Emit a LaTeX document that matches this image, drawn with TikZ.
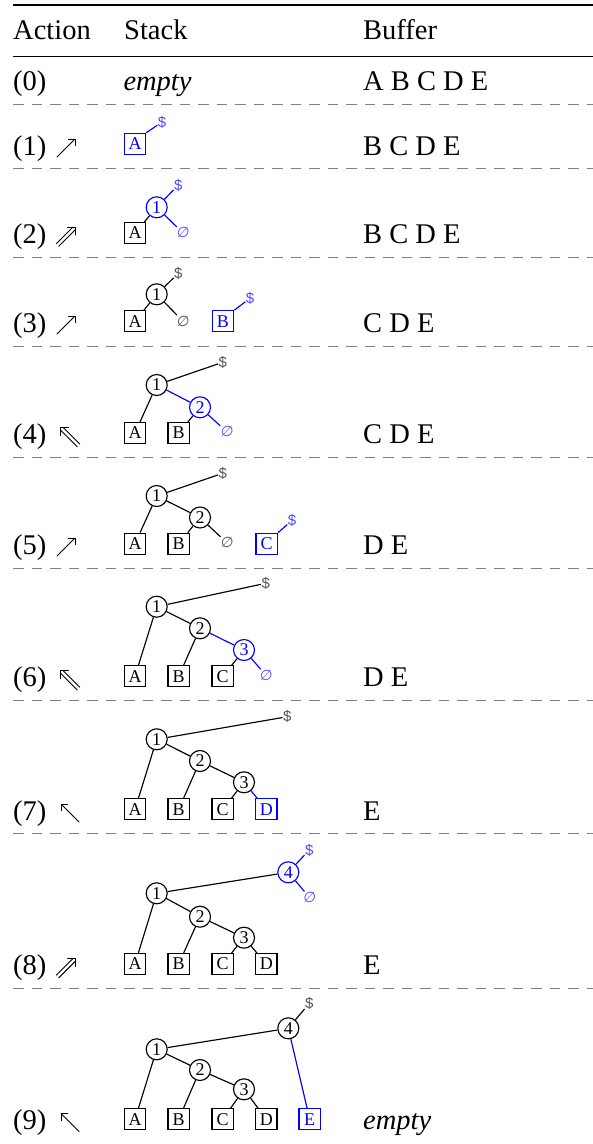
\documentclass[tikz,border=0pt]{standalone}
\usepackage{fontspec}
\setmainfont{Liberation Serif}
\newfontfamily\sansf{Liberation Sans}
\newfontfamily\symf[FakeSlant=0.12]{DejaVu Sans}
\usetikzlibrary{arrows.meta}
\definecolor{labgray}{HTML}{555555}
\definecolor{lblue}{HTML}{4D4DFF}
\definecolor{sepgray}{HTML}{808080}
\begin{document}
\begin{tikzpicture}[x=1pt,y=-1pt,
  leafbox/.style={draw, rectangle, minimum width=21.5pt, minimum height=21pt, inner sep=0pt, line width=1.15pt, font=\fontsize{18}{18}\selectfont},
  inode/.style={draw, circle, minimum size=21pt, inner sep=0pt, line width=1.15pt, font=\fontsize{18}{18}\selectfont},
  act/.style={draw=blue, text=blue},
  dollar/.style={inner sep=0.4pt, text=labgray, font=\sansf\fontsize{15}{15}\selectfont},
  empt/.style={inner sep=0.4pt, text=labgray, font=\symf\fontsize{14.5}{15}\selectfont},
  actlab/.style={text=lblue},
  edge/.style={line width=1.15pt},
  aedge/.style={line width=1.15pt, draw=blue},
  rowtext/.style={anchor=base west, inner sep=0pt, font=\fontsize{28.5}{30}\selectfont},
  sepline/.style={draw=sepgray, line width=0.8pt, dash pattern=on 10.5pt off 8pt},
  arrowline/.style={line width=0.9pt, line cap=round},
  sarrow/.style={arrowline, -{Straight Barb[length=5pt,width=10pt]}}
]
\useasboundingbox (0,0) rectangle (593,1144);

% header
\draw[line width=1.8pt] (13,5) -- (593,5);
\node[rowtext] (hAct) at (13,39.3) {Action};
\node[rowtext] (hStack) at (124,39.3) {Stack};
\node[rowtext] (hBuf) at (363,39.3) {Buffer};
\draw[line width=0.9pt] (13,56) -- (593,56);

% separators
\foreach \yy in {104,168,257,346,457,568,700.5,833.5,988}
  \draw[sepline] (13,\yy) -- (593,\yy);

% row 0
\node[rowtext] (a0) at (13,90.5) {(0)};
\node[rowtext] (s0) at (123.3,90.5) {\itshape empty};
\node[rowtext] (b0) at (363,90.5) {A B C D E};

% action labels and buffers
\node[rowtext] (a1) at (13,155) {(1)};
\node[rowtext] (a2) at (13,243) {(2)};
\node[rowtext] (a3) at (13,332) {(3)};
\node[rowtext] (a4) at (13,443.3) {(4)};
\node[rowtext] (a5) at (13,554) {(5)};
\node[rowtext] (a6) at (13,686.7) {(6)};
\node[rowtext] (a7) at (13,820) {(7)};
\node[rowtext] (a8) at (13,974.5) {(8)};
\node[rowtext] (a9) at (13,1129.5) {(9)};

\node[rowtext] (b1) at (363,155) {B C D E};
\node[rowtext] (b2) at (363,243) {B C D E};
\node[rowtext] (b3) at (363,332) {C D E};
\node[rowtext] (b4) at (363,443.3) {C D E};
\node[rowtext] (b5) at (363,554) {D E};
\node[rowtext] (b6) at (363,686.7) {D E};
\node[rowtext] (b7) at (363,820) {E};
\node[rowtext] (b8) at (363,974.5) {E};
\node[rowtext] (b9) at (363,1129.5) {\itshape empty};

% arrows: NE single
\foreach \bl in {155,332,554}{
  \begin{scope}[shift={(0,\bl)}]
    \draw[sarrow] (57,2) -- (75.5,-16.5);
  \end{scope}}
% NW single
\foreach \bl in {820,1129.5}{
  \begin{scope}[shift={(0,\bl)}]
    \draw[sarrow] (79,2) -- (60.5,-16.5);
  \end{scope}}
% NE double
\foreach \bl in {243,974.5}{
  \begin{scope}[shift={(0,\bl)}]
    \draw[arrowline] (56.2,0.7) -- (72.9,-16);
    \draw[arrowline] (58.8,3.3) -- (75.5,-13.4);
    \draw[arrowline, line join=miter] (67.5,-16) -- (75.5,-16) -- (75.5,-8);
  \end{scope}}
% NW double
\foreach \bl in {443.3,686.7}{
  \begin{scope}[shift={(0,\bl)}]
    \draw[arrowline] (79.8,0.7) -- (63.1,-16);
    \draw[arrowline] (77.2,3.3) -- (60.5,-13.4);
    \draw[arrowline, line join=miter] (68.5,-16) -- (60.5,-16) -- (60.5,-8);
  \end{scope}}

% row 1
\node[leafbox,act] (r1A) at (135,143.8) {A};
\node[dollar,actlab] (r1d) at (162,122) {\$};
\draw[aedge] (r1A.north east) -- (r1d);

% row 2
\node[inode,act] (r2c1) at (156.7,207.3) {1};
\node[leafbox] (r2A) at (135,233) {A};
\node[dollar,actlab] (r2d) at (178.3,185) {\$};
\node[empt,actlab] (r2e) at (182.7,232.7) {∅};
\draw[edge] (r2c1) -- (r2A);
\draw[aedge] (r2c1) -- (r2d);
\draw[aedge] (r2c1) -- (r2e);

% row 3
\node[inode] (r3c1) at (156.7,294.3) {1};
\node[leafbox] (r3A) at (135,321.2) {A};
\node[dollar] (r3d) at (178.3,273.3) {\$};
\node[empt] (r3e) at (182.7,321) {∅};
\node[leafbox,act] (r3B) at (223,321.2) {B};
\node[dollar,actlab] (r3Bd) at (250,298.3) {\$};
\draw[edge] (r3c1) -- (r3A);
\draw[edge] (r3c1) -- (r3d);
\draw[edge] (r3c1) -- (r3e);
\draw[aedge] (r3B.north east) -- (r3Bd);

% row 4
\node[inode] (r4c1) at (156.7,385) {1};
\node[inode,act] (r4c2) at (200,407.3) {2};
\node[leafbox] (r4A) at (135,433) {A};
\node[leafbox] (r4B) at (178.7,433) {B};
\node[dollar] (r4d) at (222.7,362.3) {\$};
\node[empt,actlab] (r4e) at (226.7,431.7) {∅};
\draw[edge] (r4c1) -- (r4d);
\draw[edge] (r4c1) -- (r4A);
\draw[aedge] (r4c1) -- (r4c2);
\draw[edge] (r4c2) -- (r4B);
\draw[aedge] (r4c2) -- (r4e);

% row 5
\node[inode] (r5c1) at (156.7,496) {1};
\node[inode] (r5c2) at (200,517.5) {2};
\node[leafbox] (r5A) at (135,543.7) {A};
\node[leafbox] (r5B) at (178.7,543.7) {B};
\node[dollar] (r5d) at (222.7,473.3) {\$};
\node[empt] (r5e) at (226.7,542.7) {∅};
\node[leafbox,act] (r5C) at (266.7,543.7) {C};
\node[dollar,actlab] (r5Cd) at (292,520.5) {\$};
\draw[edge] (r5c1) -- (r5d);
\draw[edge] (r5c1) -- (r5A);
\draw[edge] (r5c1) -- (r5c2);
\draw[edge] (r5c2) -- (r5B);
\draw[edge] (r5c2) -- (r5e);
\draw[aedge] (r5C.north east) -- (r5Cd);

% row 6
\node[inode] (r6c1) at (156.7,606.7) {1};
\node[inode] (r6c2) at (200,628.3) {2};
\node[inode,act] (r6c3) at (244,650) {3};
\node[leafbox] (r6A) at (135,676.3) {A};
\node[leafbox] (r6B) at (178.7,676.3) {B};
\node[leafbox] (r6C) at (222.7,676.3) {C};
\node[dollar] (r6d) at (265.7,583.3) {\$};
\node[empt,actlab] (r6e) at (265.7,675) {∅};
\draw[edge] (r6c1) -- (r6d);
\draw[edge] (r6c1) -- (r6A);
\draw[edge] (r6c1) -- (r6c2);
\draw[edge] (r6c2) -- (r6B);
\draw[aedge] (r6c2) -- (r6c3);
\draw[edge] (r6c3) -- (r6C);
\draw[aedge] (r6c3) -- (r6e);

% row 7
\node[inode] (r7c1) at (156.7,739.3) {1};
\node[inode] (r7c2) at (200,761) {2};
\node[inode] (r7c3) at (244,782.3) {3};
\node[leafbox] (r7A) at (135,809.3) {A};
\node[leafbox] (r7B) at (178.7,809.3) {B};
\node[leafbox] (r7C) at (222.7,809.3) {C};
\node[leafbox,act] (r7D) at (266.3,809.3) {D};
\node[dollar] (r7d) at (287.3,716.7) {\$};
\draw[edge] (r7c1) -- (r7d);
\draw[edge] (r7c1) -- (r7A);
\draw[edge] (r7c1) -- (r7c2);
\draw[edge] (r7c2) -- (r7B);
\draw[edge] (r7c2) -- (r7c3);
\draw[edge] (r7c3) -- (r7C);
\draw[aedge] (r7c3) -- (r7D);

% row 8
\node[inode,act] (r8c4) at (288.3,872.3) {4};
\node[inode] (r8c1) at (156.7,893.3) {1};
\node[inode] (r8c2) at (200,916.7) {2};
\node[inode] (r8c3) at (244,937.7) {3};
\node[leafbox] (r8A) at (135,964) {A};
\node[leafbox] (r8B) at (178.7,964) {B};
\node[leafbox] (r8C) at (222.7,964) {C};
\node[leafbox] (r8D) at (266.3,964) {D};
\node[dollar,actlab] (r8d) at (309.3,850) {\$};
\node[empt,actlab] (r8e) at (309.3,897.3) {∅};
\draw[aedge] (r8c4) -- (r8d);
\draw[aedge] (r8c4) -- (r8e);
\draw[edge] (r8c1) -- (r8c4);
\draw[edge] (r8c1) -- (r8A);
\draw[edge] (r8c1) -- (r8c2);
\draw[edge] (r8c2) -- (r8B);
\draw[edge] (r8c2) -- (r8c3);
\draw[edge] (r8c3) -- (r8C);
\draw[edge] (r8c3) -- (r8D);

% row 9
\node[inode] (r9c4) at (288.3,1028.3) {4};
\node[inode] (r9c1) at (156.7,1049.3) {1};
\node[inode] (r9c2) at (200,1070) {2};
\node[inode] (r9c3) at (244,1089.3) {3};
\node[leafbox] (r9A) at (135,1119.3) {A};
\node[leafbox] (r9B) at (178.7,1119.3) {B};
\node[leafbox] (r9C) at (222.7,1119.3) {C};
\node[leafbox] (r9D) at (266.3,1119.3) {D};
\node[leafbox,act] (r9E) at (309.7,1119.3) {E};
\node[dollar] (r9d) at (309.3,1003.3) {\$};
\draw[edge] (r9c4) -- (r9d);
\draw[aedge] (r9c4) -- (r9E);
\draw[edge] (r9c1) -- (r9c4);
\draw[edge] (r9c1) -- (r9A);
\draw[edge] (r9c1) -- (r9c2);
\draw[edge] (r9c2) -- (r9B);
\draw[edge] (r9c2) -- (r9c3);
\draw[edge] (r9c3) -- (r9C);
\draw[edge] (r9c3) -- (r9D);
\end{tikzpicture}
\end{document}
